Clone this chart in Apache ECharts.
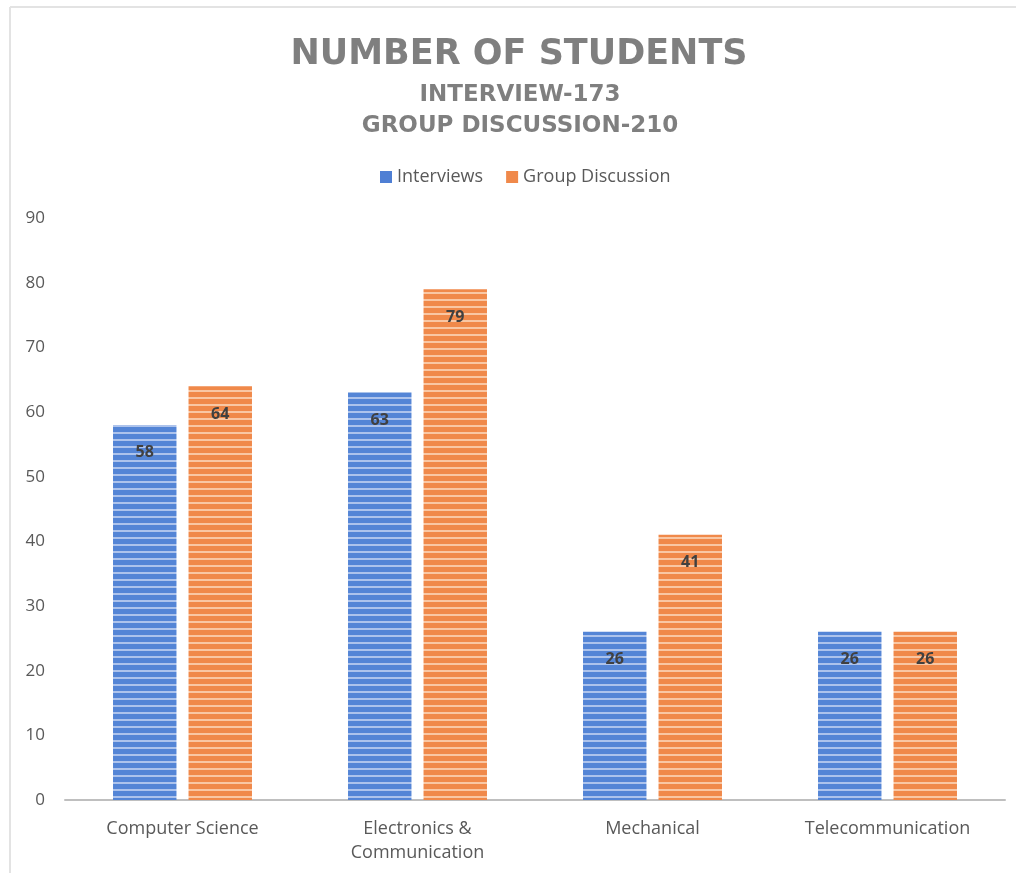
<!DOCTYPE html>
<html><head><meta charset="utf-8">
<script src="https://cdn.jsdelivr.net/npm/echarts@6/dist/echarts.min.js"></script>
<style>html,body{margin:0;padding:0;background:#fff}#c{width:1016px;height:873px}</style>
</head><body><div id="c"></div>
<script>
const categories = ['Computer Science', 'Electronics &\nCommunication', 'Mechanical', 'Telecommunication'];
const interviews = [58, 63, 26, 26];
const groupDiscussion = [64, 79, 41, 26];
const yTicks = [0, 10, 20, 30, 40, 50, 60, 70, 80, 90];

function stripe(base, line) {
  const c = document.createElement('canvas');
  c.width = 4; c.height = 7;
  const g = c.getContext('2d');
  g.fillStyle = base; g.fillRect(0, 0, 4, 7);
  g.fillStyle = line; g.fillRect(0, 5, 4, 2);
  return { image: c, repeat: 'repeat' };
}
const blueP = stripe('#5485d6', '#adc3ec');
const orangeP = stripe('#f0894a', '#f9c7a4');

const chart = echarts.init(document.getElementById('c'), null, { renderer: 'canvas' });
const font = '"Open Sans", sans-serif';
chart.setOption({
  animation: false,
  title: [{
    text: 'NUMBER OF STUDENTS', left: 514, textAlign: 'center', top: 32,
    textStyle: { fontFamily: '"DejaVu Sans", sans-serif', fontSize: 35, fontWeight: 'bold', color: '#7f7f7f' }
  }, {
    text: 'INTERVIEW-173\nGROUP DISCUSSION-210', left: 515, textAlign: 'center', top: 75,
    textStyle: { fontFamily: '"DejaVu Sans", sans-serif', fontSize: 23, fontWeight: 'bold', color: '#7f7f7f', lineHeight: 31, align: 'center' }
  }],
  legend: {
    top: 163, left: 375, itemWidth: 12, itemHeight: 12, itemGap: 23,
    textStyle: { fontFamily: font, fontSize: 18, color: '#595959' },
    data: [
      { name: 'Interviews', icon: 'rect', itemStyle: { color: '#4f7fd4' } },
      { name: 'Group Discussion', icon: 'rect', itemStyle: { color: '#f0894a' } }
    ]
  },
  grid: { left: 65, right: 11, top: 218, bottom: 73 },
  xAxis: {
    type: 'category', data: categories,
    axisLine: { lineStyle: { color: '#bfbfbf', width: 2 } },
    axisTick: { show: false },
    axisLabel: { fontFamily: font, fontSize: 18, color: '#595959', margin: 17, lineHeight: 24 }
  },
  yAxis: {
    type: 'value', min: 0, max: 90, interval: 10,
    axisLine: { show: false }, axisTick: { show: false }, splitLine: { show: false },
    axisLabel: { fontFamily: font, fontSize: 17, color: '#595959', margin: 20,
      formatter: v => yTicks.includes(v) ? String(v) : '' }
  },
  series: [{
    name: 'Interviews', type: 'bar', data: interviews, barWidth: '27%', barGap: '19%',
    itemStyle: { color: blueP },
    label: { show: true, position: 'insideTop', distance: 20, fontFamily: font, fontSize: 16, fontWeight: 'bold', color: '#404040' }
  }, {
    name: 'Group Discussion', type: 'bar', data: groupDiscussion, barWidth: '27%',
    itemStyle: { color: orangeP },
    label: { show: true, position: 'insideTop', distance: 20, fontFamily: font, fontSize: 16, fontWeight: 'bold', color: '#404040' }
  }],
  graphic: [
    { type: 'line', shape: { x1: 10, y1: 7, x2: 10, y2: 873 }, style: { stroke: '#e3e3e3', lineWidth: 2 } },
    { type: 'line', shape: { x1: 10, y1: 7, x2: 1016, y2: 7 }, style: { stroke: '#e3e3e3', lineWidth: 2 } }
  ]
});
</script></body></html>
